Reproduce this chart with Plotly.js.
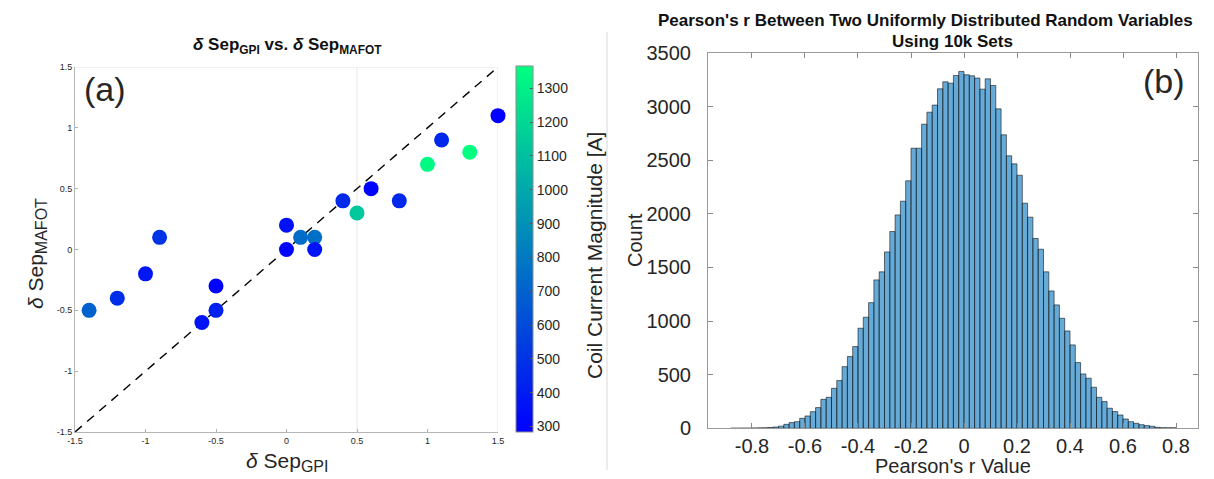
<!DOCTYPE html>
<html>
<head>
<meta charset="utf-8">
<script src="https://cdn.plot.ly/plotly-3.0.1.min.js"></script>
<style>
  html, body { margin: 0; padding: 0; background: #fff; }
  #chart { width: 1214px; height: 479px; }
</style>
</head>
<body>
<div id="chart"></div>
<script>
// Panel (a): separatrix shift from GPI vs. MAFOT, coloured by coil current
const sepGPI   = [1.5, 1.1, 1.3, 1.0, 0.6, 0.8, 0.4, 0.5, 0.0, 0.1, 0.2, 0.0, 0.2, -0.9, -1.0, -1.2, -1.4, -0.5, -0.5, -0.6];
const sepMAFOT = [1.1, 0.9, 0.8, 0.7, 0.5, 0.4, 0.4, 0.3, 0.2, 0.1, 0.1, 0.0, 0.0, 0.1, -0.2, -0.4, -0.5, -0.3, -0.5, -0.6];
const coilCurrent = [284, 450, 1366, 1340, 300, 450, 460, 1130, 350, 740, 760, 310, 360, 500, 380, 480, 700, 290, 420, 370];
const unityLine = [-1.5, 1.5];

// Panel (b): histogram of Pearson's r (bin centres, width 0.02)
const binCenters = [
  -0.87, -0.85, -0.83, -0.81, -0.79, -0.77, -0.75, -0.73, -0.71, -0.69,
  -0.67, -0.65, -0.63, -0.61, -0.59, -0.57, -0.55, -0.53, -0.51, -0.49,
  -0.47, -0.45, -0.43, -0.41, -0.39, -0.37, -0.35, -0.33, -0.31, -0.29,
  -0.27, -0.25, -0.23, -0.21, -0.19, -0.17, -0.15, -0.13, -0.11, -0.09,
  -0.07, -0.05, -0.03, -0.01, 0.01, 0.03, 0.05, 0.07, 0.09, 0.11,
  0.13, 0.15, 0.17, 0.19, 0.21, 0.23, 0.25, 0.27, 0.29, 0.31,
  0.33, 0.35, 0.37, 0.39, 0.41, 0.43, 0.45, 0.47, 0.49, 0.51,
  0.53, 0.55, 0.57, 0.59, 0.61, 0.63, 0.65, 0.67, 0.69, 0.71,
  0.73, 0.75, 0.77, 0.79
];
const binCounts = [
  1, 1, 2, 2, 3, 4, 5, 8, 12, 20,
  37, 53, 62, 93, 115, 155, 193, 270, 289, 373,
  445, 575, 669, 762, 933, 1036, 1172, 1384, 1459, 1645,
  1835, 1990, 2118, 2308, 2612, 2612, 2836, 2948, 3014, 3166,
  3231, 3219, 3290, 3328, 3297, 3287, 3266, 3163, 3259, 3197,
  2979, 2737, 2541, 2466, 2360, 2099, 1969, 1770, 1670, 1459,
  1281, 1151, 1026, 908, 778, 613, 507, 467, 383, 289,
  249, 187, 156, 124, 87, 62, 47, 34, 25, 19,
  9, 6, 5, 5
];

const sepTicks = [-1.5, -1, -0.5, 0, 0.5, 1, 1.5];
const sepTickText = ['-1.5', '-1', '-0.5', '0', '0.5', '1', '1.5'];
const rTicks = [-0.8, -0.6, -0.4, -0.2, 0, 0.2, 0.4, 0.6, 0.8];
const rTickText = ['-0.8', '-0.6', '-0.4', '-0.2', '0', '0.2', '0.4', '0.6', '0.8'];
const countTicks = [0, 500, 1000, 1500, 2000, 2500, 3000, 3500];
const currentTicks = [300, 400, 500, 600, 700, 800, 900, 1000, 1100, 1200, 1300];

const W = 1214, H = 479;
const px = v => v / W;
const py = v => 1 - v / H;
const FONT = 'Liberation Sans, Arial, Helvetica, sans-serif';
const TXT = '#262626';

const traces = [
  {
    x: unityLine, y: unityLine, xaxis: 'x', yaxis: 'y',
    mode: 'lines', type: 'scatter', hoverinfo: 'skip',
    line: { color: '#000', width: 1.4, dash: '9px,7px' },
    showlegend: false
  },
  {
    x: sepGPI, y: sepMAFOT, xaxis: 'x', yaxis: 'y',
    mode: 'markers', type: 'scatter', showlegend: false, cliponaxis: false,
    marker: {
      size: 15,
      color: coilCurrent,
      colorscale: [[0, 'rgb(0,0,255)'], [1, 'rgb(0,255,128)']],
      line: { width: 0 },
      colorbar: {
        x: px(516), xanchor: 'left',
        y: py(66), yanchor: 'top',
        len: 366, lenmode: 'pixels',
        thickness: 17, thicknessmode: 'pixels',
        outlinewidth: 1, outlinecolor: '#8c8c8c',
        tickvals: currentTicks,
        ticks: 'inside', ticklen: 3, tickcolor: '#555',
        tickfont: { family: FONT, size: 14, color: TXT },
        ticklabelstandoff: 2,
        xpad: 0, ypad: 0
      }
    }
  },
  {
    x: binCenters, y: binCounts, xaxis: 'x2', yaxis: 'y2',
    type: 'bar', width: 0.02, showlegend: false,
    marker: {
      color: 'rgba(0,114,189,0.6)',
      line: { color: 'rgba(20,20,20,0.75)', width: 0.8 }
    }
  }
];

const layout = {
  width: W, height: H,
  margin: { l: 0, r: 0, t: 0, b: 0 },
  paper_bgcolor: '#fff', plot_bgcolor: '#fff',
  font: { family: FONT, color: TXT },
  bargap: 0,
  xaxis: {
    domain: [px(75), px(498)], range: [-1.5, 1.5],
    tickvals: sepTicks, ticktext: sepTickText,
    ticks: 'inside', ticklen: 3, tickcolor: '#b0b0b0',
    showgrid: false, zeroline: false,
    showline: true, linecolor: '#b5b5b5', linewidth: 1,
    tickfont: { size: 9, color: TXT }, anchor: 'y'
  },
  yaxis: {
    domain: [py(432), py(67)], range: [-1.5, 1.5],
    tickvals: sepTicks, ticktext: sepTickText,
    ticks: 'inside', ticklen: 3, tickcolor: '#b0b0b0',
    showgrid: false, zeroline: false,
    showline: true, linecolor: '#b5b5b5', linewidth: 1,
    tickfont: { size: 9, color: TXT }, anchor: 'x'
  },
  xaxis2: {
    domain: [px(708), px(1198)], range: [-0.966, 0.883],
    tickvals: rTicks, ticktext: rTickText,
    ticks: 'inside', ticklen: 5, tickcolor: '#888',
    showgrid: false, zeroline: false,
    showline: true, linecolor: '#999', linewidth: 1, mirror: 'ticks',
    tickfont: { size: 20, color: TXT }, anchor: 'y2'
  },
  yaxis2: {
    domain: [py(428.3), py(53)], range: [0, 3500],
    tickvals: countTicks,
    ticks: 'inside', ticklen: 5, tickcolor: '#888',
    showgrid: false, zeroline: false,
    showline: true, linecolor: '#999', linewidth: 1, mirror: 'ticks',
    tickfont: { size: 20, color: TXT }, anchor: 'x2',
    ticklabelstandoff: 12
  },
  shapes: [
    // light box edges and reference line of panel (a)
    { type: 'line', xref: 'x', yref: 'y', x0: 0.5, x1: 0.5, y0: -1.5, y1: 1.5,
      line: { color: '#e8e8e8', width: 1 }, layer: 'below' },
    { type: 'line', xref: 'x', yref: 'y', x0: -1.5, x1: 1.5, y0: 1.5, y1: 1.5,
      line: { color: '#e6e6e6', width: 1 }, layer: 'below' },
    { type: 'line', xref: 'x', yref: 'y', x0: 1.5, x1: 1.5, y0: -1.5, y1: 1.5,
      line: { color: '#e6e6e6', width: 1 }, layer: 'below' },
    // divider between the two panels
    { type: 'line', xref: 'paper', yref: 'paper', x0: px(607), x1: px(607), y0: py(470), y1: py(32),
      line: { color: '#d9d9d9', width: 1 } }
  ],
  annotations: [
    { text: '<b><i>δ</i> Sep<sub>GPI</sub> vs. <i>δ</i> Sep<sub>MAFOT</sub></b>',
      xref: 'paper', yref: 'paper', x: px(287), y: py(46), xanchor: 'center', yanchor: 'middle',
      showarrow: false, font: { size: 17, color: '#111' } },
    { text: '<i>δ</i> Sep<sub><span style="font-size:16px">GPI</span></sub>',
      xref: 'paper', yref: 'paper', x: px(287), y: py(462), xanchor: 'center', yanchor: 'middle',
      showarrow: false, font: { size: 21, color: TXT } },
    { text: '<i>δ</i> Sep<sub><span style="font-size:16px">MAFOT</span></sub>', textangle: -90,
      xref: 'paper', yref: 'paper', x: px(37), y: py(254), xanchor: 'center', yanchor: 'middle',
      showarrow: false, font: { size: 21, color: TXT } },
    { text: '(a)',
      xref: 'paper', yref: 'paper', x: px(82), y: py(89), xanchor: 'left', yanchor: 'middle',
      showarrow: false, font: { size: 34, color: TXT } },
    { text: 'Coil Current Magnitude [A]', textangle: -90,
      xref: 'paper', yref: 'paper', x: px(595), y: py(256), xanchor: 'center', yanchor: 'middle',
      showarrow: false, font: { size: 21, color: TXT } },
    { text: "<b>Pearson's r Between Two Uniformly Distributed Random Variables</b>",
      xref: 'paper', yref: 'paper', x: px(925), y: py(21), xanchor: 'center', yanchor: 'middle',
      showarrow: false, font: { size: 17, color: '#111' } },
    { text: '<b>Using 10k Sets</b>',
      xref: 'paper', yref: 'paper', x: px(952), y: py(42), xanchor: 'center', yanchor: 'middle',
      showarrow: false, font: { size: 17, color: '#111' } },
    { text: "Pearson's r Value",
      xref: 'paper', yref: 'paper', x: px(953), y: py(466), xanchor: 'center', yanchor: 'middle',
      showarrow: false, font: { size: 20, color: TXT } },
    { text: 'Count', textangle: -90,
      xref: 'paper', yref: 'paper', x: px(635), y: py(240), xanchor: 'center', yanchor: 'middle',
      showarrow: false, font: { size: 20, color: TXT } },
    { text: '(b)',
      xref: 'paper', yref: 'paper', x: px(1187), y: py(81), xanchor: 'right', yanchor: 'middle',
      showarrow: false, font: { size: 34, color: TXT } }
  ]
};

Plotly.newPlot('chart', traces, layout, { staticPlot: true, displayModeBar: false });
</script>
</body>
</html>
